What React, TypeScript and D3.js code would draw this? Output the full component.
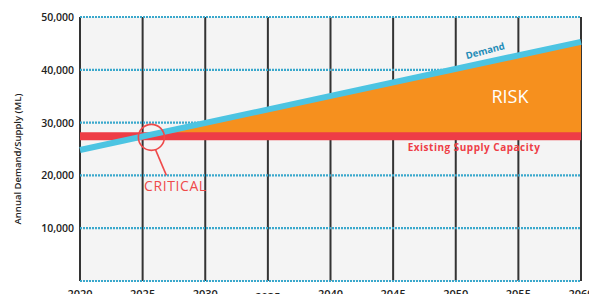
import { useEffect, useRef } from "react";
import * as d3 from "d3";

// chart values
const years = [2020, 2025, 2030, 2035, 2040, 2045, 2050, 2055, 2060];
const yTicks = [10000, 20000, 30000, 40000, 50000];
const demandYears = [2020, 2060];
const demandValues = [24800, 45300];
const supplyYears = [2020, 2060];
const supplyValues = [27400, 27400];
const criticalYear = 2025.7; // where the annotation circle sits

const App = () => {
  const ref = useRef(null);

  useEffect(() => {
    const svg = d3.select(ref.current);
    svg.selectAll("*").remove();

    const width = 589;
    const height = 294;
    const margin = { left: 80, right: 8, top: 17, bottom: 13 };

    svg.attr("width", width).attr("height", height);

    const x = d3
      .scaleLinear()
      .domain([2020, 2060])
      .range([margin.left, width - margin.right]);
    const y = d3
      .scaleLinear()
      .domain([0, 50000])
      .range([height - margin.bottom, margin.top]);

    const font = "'Open Sans', 'DejaVu Sans', sans-serif";

    // plot background
    svg
      .append("rect")
      .attr("x", x(2020))
      .attr("y", y(50000))
      .attr("width", x(2060) - x(2020))
      .attr("height", y(0) - y(50000))
      .attr("fill", "#f4f4f4");

    // vertical year lines
    svg
      .append("g")
      .selectAll("line")
      .data(years)
      .enter()
      .append("line")
      .attr("x1", (d) => x(d))
      .attr("x2", (d) => x(d))
      .attr("y1", y(50000))
      .attr("y2", y(0))
      .attr("stroke", "#333")
      .attr("stroke-width", 2);

    // horizontal gridlines (dotted blue)
    svg
      .append("g")
      .selectAll("line")
      .data([0, ...yTicks])
      .enter()
      .append("line")
      .attr("x1", x(2020))
      .attr("x2", x(2060))
      .attr("y1", (d) => y(d))
      .attr("y2", (d) => y(d))
      .attr("stroke", "#3aa8cc")
      .attr("stroke-width", 2.2)
      .attr("stroke-dasharray", "2,1");

    // y tick labels
    svg
      .append("g")
      .selectAll("text")
      .data(yTicks)
      .enter()
      .append("text")
      .attr("x", 74)
      .attr("y", (d) => y(d) + 4)
      .attr("text-anchor", "end")
      .style("font-family", font)
      .style("font-size", "10.5px")
      .style("font-weight", "600")
      .attr("fill", "#222")
      .text((d) => d3.format(",")(d));

    // x tick labels (cut by the bottom edge, as in the original)
    svg
      .append("g")
      .selectAll("text")
      .data(years)
      .enter()
      .append("text")
      .attr("x", (d) => x(d))
      .attr("y", (d) => (d === 2035 ? 301 : 298))
      .attr("text-anchor", "middle")
      .style("font-family", font)
      .style("font-size", "11px")
      .style("font-weight", "600")
      .attr("fill", "#222")
      .text((d) => d);

    // y axis title
    svg
      .append("text")
      .attr("transform", `translate(21, ${(y(0) + y(50000)) / 2 + 10}) rotate(-90)`)
      .attr("text-anchor", "middle")
      .style("font-family", font)
      .style("font-size", "9.5px")
      .style("font-weight", "600")
      .attr("fill", "#222")
      .text("Annual Demand/Supply (ML)");

    // risk area: between supply and demand, only where demand exceeds supply
    const defs = svg.append("defs");
    defs
      .append("clipPath")
      .attr("id", "above-supply")
      .append("rect")
      .attr("x", x(2020))
      .attr("y", y(50000))
      .attr("width", x(2060) - x(2020))
      .attr("height", y(supplyValues[0]) - y(50000));

    const demand = demandYears.map((d, i) => [d, demandValues[i]]);
    const supply = supplyYears.map((d, i) => [d, supplyValues[i]]);

    const area = d3
      .area()
      .x((d) => x(d[0]))
      .y0(() => y(supplyValues[0]))
      .y1((d) => y(d[1]));

    svg
      .append("path")
      .datum(demand)
      .attr("d", area)
      .attr("fill", "#f6901e")
      .attr("clip-path", "url(#above-supply)");

    const line = d3
      .line()
      .x((d) => x(d[0]))
      .y((d) => y(d[1]));

    // existing supply
    svg
      .append("path")
      .datum(supply)
      .attr("d", line)
      .attr("fill", "none")
      .attr("stroke", "#ee3d46")
      .attr("stroke-width", 8);

    // demand
    svg
      .append("path")
      .datum(demand)
      .attr("d", line)
      .attr("fill", "none")
      .attr("stroke", "#4cc4e2")
      .attr("stroke-width", 6);

    // critical annotation
    const cx = x(criticalYear);
    const cy = y(supplyValues[0]) + 1;

    svg
      .append("circle")
      .attr("cx", cx)
      .attr("cy", cy)
      .attr("r", 13)
      .attr("fill", "none")
      .attr("stroke", "#ef4a4a")
      .attr("stroke-width", 1.6);

    svg
      .append("line")
      .attr("x1", cx + 4)
      .attr("y1", cy + 12)
      .attr("x2", cx + 15)
      .attr("y2", cy + 38)
      .attr("stroke", "#ef4a4a")
      .attr("stroke-width", 1.6);

    svg
      .append("text")
      .attr("x", 144)
      .attr("y", 191)
      .style("font-family", font)
      .style("font-size", "14px")
      .style("letter-spacing", "0.6px")
      .attr("fill", "#ef4a4a")
      .text("CRITICAL");

    svg
      .append("text")
      .attr("x", 510)
      .attr("y", 103)
      .attr("text-anchor", "middle")
      .style("font-family", font)
      .style("font-size", "18px")
      .attr("fill", "#fff")
      .text("RISK");

    svg
      .append("text")
      .attr("transform", `translate(486, 54) rotate(-15)`)
      .attr("text-anchor", "middle")
      .style("font-family", font)
      .style("font-size", "9.5px")
      .style("font-weight", "700")
      .attr("fill", "#1f8cb8")
      .text("Demand");

    svg
      .append("text")
      .attr("x", 474)
      .attr("y", 151)
      .attr("text-anchor", "middle")
      .style("font-family", font)
      .style("font-size", "10px")
      .style("font-weight", "700")
      .style("letter-spacing", "0.5px")
      .attr("fill", "#ee3d46")
      .text("Existing Supply Capacity");
  }, []);

  return (
    <div style={{ position: "absolute", left: 0, top: 0 }}>
      <svg ref={ref}></svg>
    </div>
  );
};

export default App;
